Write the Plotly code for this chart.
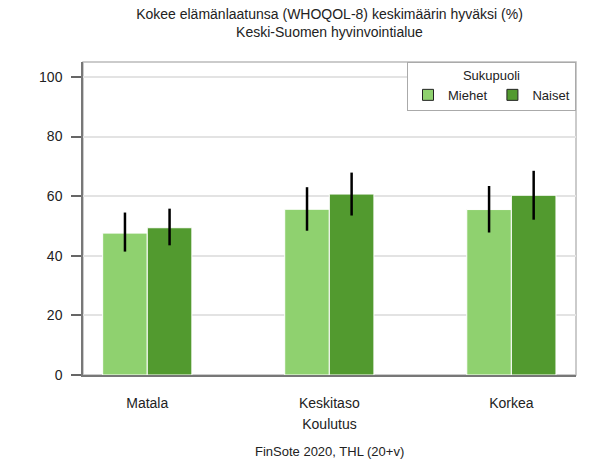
import plotly.graph_objects as go

categories = ["Matala", "Keskitaso", "Korkea"]
series_names = ["Miehet", "Naiset"]
miehet = [47.6, 55.6, 55.5]
miehet_upper = [54.5, 63.0, 63.4]
miehet_lower = [41.4, 48.4, 47.8]
naiset = [49.4, 60.7, 60.3]
naiset_upper = [55.8, 67.9, 68.5]
naiset_lower = [43.5, 53.5, 52.1]
y_ticks = [0, 20, 40, 60, 80, 100]

title_text = "Kokee elämänlaatunsa (WHOQOL-8) keskimäärin hyväksi (%)<br>Keski-Suomen hyvinvointialue"
x_title = "Koulutus"
legend_title = "Sukupuoli"
caption = "FinSote 2020, THL (20+v)"

colors = ["#8fd16f", "#529a2f"]
FONT = "Liberation Sans, Arial, sans-serif"

fig = go.Figure()
for name, vals, up, lo, col in [
    (series_names[0], miehet, miehet_upper, miehet_lower, colors[0]),
    (series_names[1], naiset, naiset_upper, naiset_lower, colors[1]),
]:
    fig.add_trace(go.Bar(
        x=categories, y=vals, name=name, showlegend=False,
        marker=dict(color=col, line=dict(color="white", width=1)),
        error_y=dict(type="data", symmetric=False,
                     array=[u - v for u, v in zip(up, vals)],
                     arrayminus=[v - l for v, l in zip(vals, lo)],
                     color="black", thickness=2.5, width=0),
    ))
# legend entries with outlined square swatches
for name, col in zip(series_names, colors):
    fig.add_trace(go.Scatter(
        x=[None], y=[None], mode="markers", name=name,
        marker=dict(symbol="square", size=11, color=col, line=dict(color="#222", width=1)),
    ))

fig.update_layout(
    width=591, height=463,
    margin=dict(l=83, r=15, t=62, b=88),
    paper_bgcolor="white", plot_bgcolor="white",
    font=dict(family=FONT, size=14, color="#222"),
    barmode="group", bargap=0.51, bargroupgap=0,
    title=dict(text=title_text, x=0.5, xref="paper", xanchor="center",
               yref="container", y=1 - 19 / 463, yanchor="middle",
               font=dict(size=14, color="#222")),
    legend=dict(orientation="h", x=1, xanchor="right", y=1, yanchor="top",
                bordercolor="#aaaaaa", borderwidth=1, bgcolor="white",
                title=dict(text=legend_title, side="top center", font=dict(size=13)),
                font=dict(size=13), itemwidth=30),
    showlegend=True,
)
fig.update_xaxes(range=[-0.353, 2.355], showline=True, linecolor="#777", linewidth=1.5,
                 ticks="outside", ticklen=14, tickcolor="rgba(0,0,0,0)",
                 title=dict(text=x_title, standoff=10, font=dict(size=14)),
                 showgrid=False)
fig.update_yaxes(range=[0, 105], tickvals=y_ticks, showline=True, linecolor="#777", linewidth=1.5,
                 ticks="outside", ticklen=10, tickcolor="#666", tickwidth=1.5,
                 gridcolor="#e3e3e3", gridwidth=1.5, zeroline=False, ticklabelstandoff=6)
fig.add_shape(type="rect", xref="paper", yref="paper", x0=0, y0=0, x1=1, y1=1,
              line=dict(color="#bbbbbb", width=1.5), layer="below")
fig.add_annotation(text=caption, xref="paper", yref="paper", x=0.5, y=-0.245,
                   xanchor="center", yanchor="middle", showarrow=False,
                   font=dict(size=13, color="#222"))

fig.write_html("out.html", config={"displayModeBar": False},
               post_script="document.body.style.margin='0';document.body.style.overflow='hidden';")
